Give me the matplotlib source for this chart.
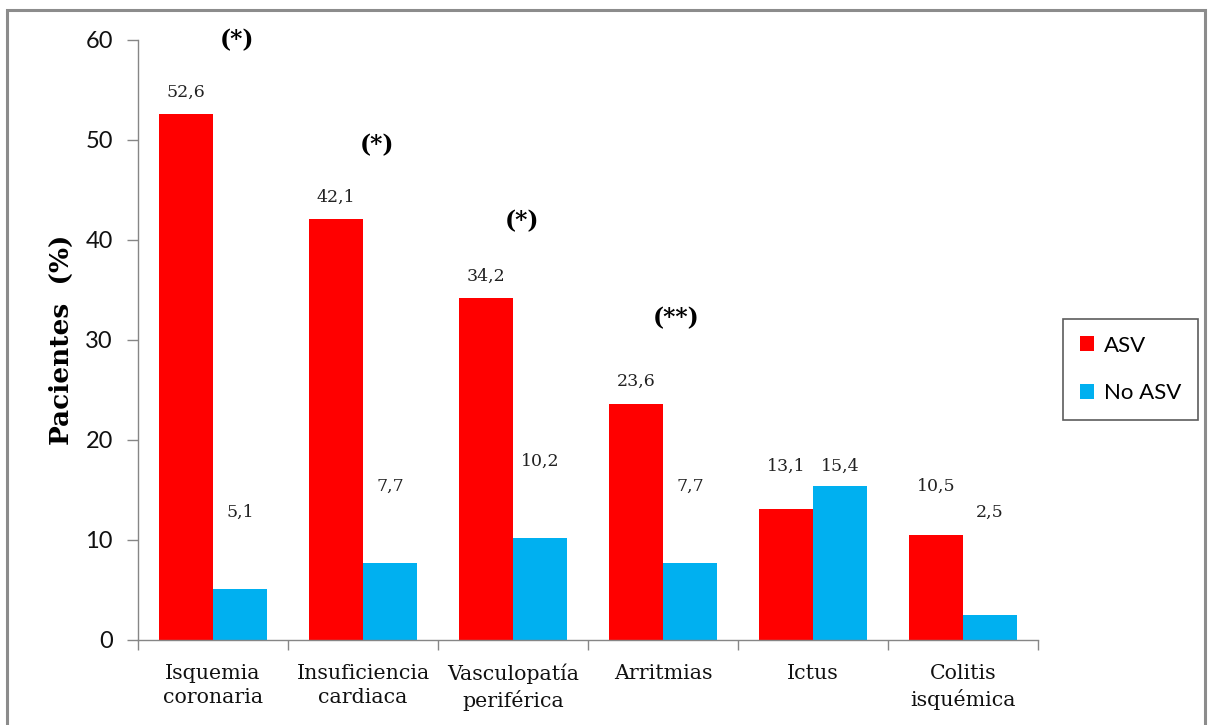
import matplotlib
matplotlib.use("Agg")
import matplotlib.pyplot as plt
from matplotlib.patches import Rectangle, Patch
import numpy as np

categories = ["Isquemia\ncoronaria", "Insuficiencia\ncardiaca", "Vasculopatía\nperiférica",
              "Arritmias", "Ictus", "Colitis\nisquémica"]
asv = [52.6, 42.1, 34.2, 23.6, 13.1, 10.5]
no_asv = [5.1, 7.7, 10.2, 7.7, 15.4, 2.5]
# heights at which the value labels sit
asv_label_y = [54.8, 44.3, 36.4, 25.9, 17.4, 15.4]
no_asv_label_y = [12.8, 15.4, 17.9, 15.4, 17.4, 12.8]
# significance marks: (category index, x shift, height, text)
sig_marks = [(0, 0.16, 60.0, "(*)"), (1, 0.09, 49.5, "(*)"),
             (2, 0.06, 41.9, "(*)"), (3, 0.09, 32.2, "(**)")]
yticks = [0, 10, 20, 30, 40, 50, 60]

RED = "#FF0000"
BLUE = "#00B0F0"
GRAY = "#868686"
SERIF = "DejaVu Serif"
SANS = "Lato"

W, H = 1208, 725
fig = plt.figure(figsize=(W / 100, H / 100), dpi=100)

# outer frame (runs off the bottom edge)
fig.patches.append(Rectangle((7 / W, -0.05), (1205 - 7) / W, 1 - 10 / H + 0.05,
                             transform=fig.transFigure, fill=False,
                             edgecolor="#8C8C8C", linewidth=2.2))

ax = fig.add_axes([138 / W, 1 - 640 / H, 900 / W, 600 / H])
x = np.arange(len(categories))
bw = 0.36
ax.bar(x - bw / 2, asv, bw, color=RED, label="ASV")
ax.bar(x + bw / 2, no_asv, bw, color=BLUE, label="No ASV")

for i in range(len(categories)):
    ax.text(x[i] - bw / 2, asv_label_y[i], f"{asv[i]:.1f}".replace(".", ","),
            ha="center", va="center", fontsize=12.5, family=SERIF, color="#222222")
    ax.text(x[i] + bw / 2, no_asv_label_y[i], f"{no_asv[i]:.1f}".replace(".", ","),
            ha="center", va="center", fontsize=12.5, family=SERIF, color="#222222")

for idx, dx, yv, txt in sig_marks:
    ax.text(x[idx] + dx, yv, txt, ha="center", va="center", fontsize=17,
            fontweight="bold", family=SERIF, color="black")

ax.set_xlim(-0.5, len(categories) - 0.5)
ax.set_ylim(0, 60)
ax.set_yticks(yticks)
ax.set_yticklabels([str(v) for v in yticks], fontsize=17, family=SANS, color="#111111")
ax.set_xticks(x)
ax.set_xticklabels(categories, fontsize=14.8, family=SERIF, linespacing=1.35,
                   color="#111111")
ax.tick_params(axis="x", which="major", length=0, pad=17)
ax.set_xticks(np.arange(-0.5, len(categories)), minor=True)
ax.tick_params(axis="x", which="minor", length=7, color=GRAY, width=1)
ax.tick_params(axis="y", length=8, color=GRAY, width=1, pad=10)
for s in ["top", "right"]:
    ax.spines[s].set_visible(False)
for s in ["left", "bottom"]:
    ax.spines[s].set_color(GRAY)
    ax.spines[s].set_linewidth(1)

ax.set_ylabel("Pacientes  (%)", fontsize=19, fontweight="bold", family=SERIF, labelpad=8)

handles = [Patch(facecolor=RED, label="ASV"), Patch(facecolor=BLUE, label="No ASV")]
leg = fig.legend(handles=handles, loc="center", bbox_to_anchor=(1130.5 / W, 1 - 369.5 / H),
                 frameon=True, fancybox=False, edgecolor="#333333",
                 prop={"family": SANS, "size": 16}, handlelength=0.65, handleheight=0.65,
                 handletextpad=0.45, labelspacing=1.25, borderpad=0.75, borderaxespad=0)
leg.get_frame().set_linewidth(1.2)

fig.savefig("out.png", dpi=100)
